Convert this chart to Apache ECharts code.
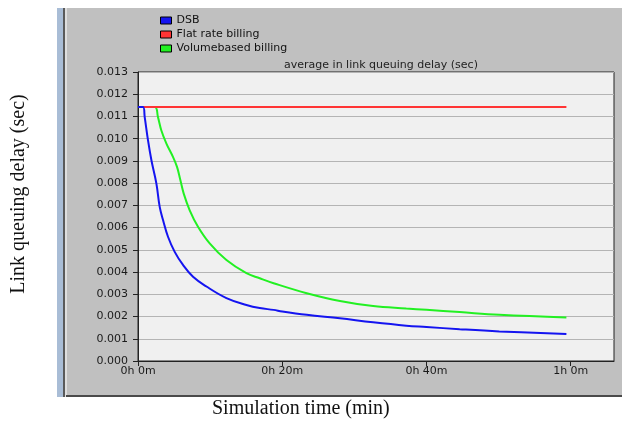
<!DOCTYPE html>
<html>
<head>
<meta charset="utf-8">
<script src="https://cdn.jsdelivr.net/npm/echarts@6/dist/echarts.min.js"></script>
<style>
  html, body { margin: 0; padding: 0; background: #fff; }
  #chart { width: 622px; height: 423px; }
</style>
</head>
<body>
<div id="chart"></div>
<script>
// time in minutes, delay in seconds
var dsbTime  = [0, 0.7, 0.93, 1.39, 1.86, 2.55, 3.01, 3.47, 4.16, 5.09, 6.24, 7.63, 9.49, 12.26, 15.03, 16.88, 18.8, 20, 23.4, 28, 32.6, 37.2, 40, 44.6, 50.1, 59.4];
var dsbDelay = [0.01142, 0.01142, 0.01097, 0.00992, 0.00903, 0.00798, 0.00693, 0.00634, 0.00559, 0.00491, 0.00432, 0.00379, 0.00335, 0.00283, 0.00252, 0.00238, 0.00230, 0.00223, 0.00208, 0.00192, 0.00174, 0.00159, 0.00153, 0.00143, 0.00133, 0.00121];

var flatTime  = [0, 59.4];
var flatDelay = [0.01142, 0.01142];

var volTime  = [0, 2.32, 2.77, 3.24, 3.94, 4.85, 5.41, 5.88, 6.34, 7.17, 8.32, 9.94, 12.26, 15.03, 16.88, 18.8, 23.4, 28, 32.6, 37.2, 40, 44.6, 50.1, 59.4];
var volDelay = [0.01142, 0.01142, 0.01097, 0.01037, 0.00978, 0.00918, 0.00873, 0.00813, 0.00753, 0.00678, 0.00604, 0.00529, 0.00454, 0.00395, 0.00372, 0.00350, 0.00305, 0.00270, 0.00247, 0.00236, 0.00230, 0.00220, 0.00208, 0.00196];

var xTicks = [0, 20, 40, 60];

function pairs(t, v) {
    var res = [];
    for (var i = 0; i < t.length; i++) {
        res.push([t[i], v[i]]);
    }
    return res;
}

var chart = echarts.init(document.getElementById('chart'));
var font = 'DejaVu Sans';

var option = {
    animation: false,
    backgroundColor: '#fff',
    title: {
        text: 'average in link queuing delay (sec)',
        left: 376,
        top: 55,
        textAlign: 'center',
        textStyle: { fontFamily: font, fontSize: 11, fontWeight: 'normal', color: '#222' }
    },
    legend: {
        orient: 'vertical',
        left: 155,
        top: 10,
        icon: 'rect',
        itemWidth: 11,
        itemHeight: 7,
        itemGap: 3,
        itemStyle: { borderColor: '#000', borderWidth: 1 },
        textStyle: { fontFamily: font, fontSize: 11, lineHeight: 11, color: '#111' },
        data: ['DSB', 'Flat rate billing', 'Volumebased billing']
    },
    grid: {
        left: 138,
        right: 8,
        top: 72,
        bottom: 62,
        show: true,
        backgroundColor: '#f0f0f0',
        borderColor: '#222',
        borderWidth: 1
    },
    xAxis: {
        type: 'value',
        min: 0,
        max: 66,
        interval: 20,
        axisLine: { lineStyle: { color: '#222' } },
        axisTick: { show: true, length: 5, lineStyle: { color: '#222' }, customValues: xTicks },
        axisLabel: {
            fontFamily: font, fontSize: 11, color: '#1a1a1a', margin: 5,
            customValues: xTicks,
            formatter: function (v) {
                return Math.floor(v / 60) + 'h ' + (v % 60) + 'm';
            }
        },
        splitLine: { show: false }
    },
    yAxis: {
        type: 'value',
        min: 0,
        max: 0.013,
        interval: 0.001,
        axisLine: { show: true, lineStyle: { color: '#222' } },
        axisTick: { show: true, length: 5, lineStyle: { color: '#222' } },
        axisLabel: {
            fontFamily: font, fontSize: 11, color: '#1a1a1a', margin: 10,
            formatter: function (v) { return v.toFixed(3); }
        },
        splitLine: { show: true, lineStyle: { color: '#b4b4b4', width: 1 } }
    },
    graphic: [
        // gray panel + window edge on the left
        { type: 'rect', z: -10, shape: { x: 66, y: 8, width: 556, height: 389 }, style: { fill: '#c0c0c0' } },
        { type: 'rect', z: -10, shape: { x: 57, y: 8, width: 6, height: 389 }, style: { fill: '#a9bdd6' } },
        { type: 'rect', z: -10, shape: { x: 63, y: 8, width: 2, height: 389 }, style: { fill: '#5a5a5a' } },
        { type: 'rect', z: -10, shape: { x: 65, y: 8, width: 2, height: 389 }, style: { fill: '#dedede' } },
        { type: 'rect', z: -10, shape: { x: 66, y: 395, width: 556, height: 2 }, style: { fill: '#4a4a4a' } },
        {
            type: 'text', left: 212, top: 399,
            style: { text: 'Simulation time (min)', font: '20px "Liberation Serif"', fill: '#111' }
        },
        {
            type: 'text', x: 19, y: 194, rotation: Math.PI / 2,
            style: {
                text: 'Link queuing delay (sec)', font: '20px "Liberation Serif"', fill: '#111',
                align: 'center', verticalAlign: 'middle'
            }
        }
    ],
    series: [
        {
            name: 'DSB',
            type: 'line',
            color: '#1414f0',
            showSymbol: false,
            smooth: 0.4,
            lineStyle: { width: 2 },
            z: 3,
            data: pairs(dsbTime, dsbDelay)
        },
        {
            name: 'Flat rate billing',
            type: 'line',
            color: '#ff3434',
            showSymbol: false,
            lineStyle: { width: 2 },
            z: 2,
            data: pairs(flatTime, flatDelay)
        },
        {
            name: 'Volumebased billing',
            type: 'line',
            color: '#22f022',
            showSymbol: false,
            smooth: 0.4,
            lineStyle: { width: 2 },
            z: 1,
            data: pairs(volTime, volDelay)
        }
    ]
};

chart.setOption(option);
</script>
</body>
</html>
